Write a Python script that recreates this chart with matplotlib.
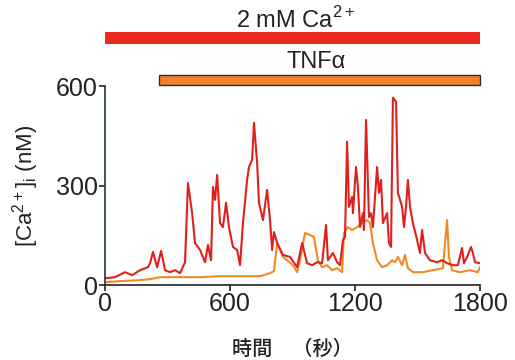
import matplotlib
matplotlib.use("Agg")
import matplotlib.pyplot as plt
from matplotlib.patches import Rectangle
from matplotlib.transforms import blended_transform_factory

plt.rcParams['font.family'] = ['Liberation Sans', 'DejaVu Sans']
plt.rcParams['mathtext.fontset'] = 'custom'
plt.rcParams['mathtext.rm'] = 'Liberation Sans'

# time (s) and [Ca2+]i (nM)
red_t = [5, 48, 96, 130, 168, 206, 216, 230, 250, 269, 288, 312, 336, 360, 384, 398,
         418, 432, 456, 480, 494, 509, 518, 528, 538, 552, 566, 581, 595, 614, 634, 648,
         662, 682, 691, 706, 715, 730, 739, 758, 778, 792, 802, 811, 826, 854, 888, 922,
         946, 970, 994, 1018, 1042, 1061, 1070, 1094, 1114, 1128, 1142, 1152, 1162, 1171,
         1186, 1190, 1205, 1214, 1224, 1238, 1243, 1253, 1267, 1277, 1286, 1306, 1315,
         1325, 1334, 1354, 1363, 1373, 1382, 1397, 1406, 1426, 1435, 1445, 1454, 1464,
         1478, 1498, 1512, 1522, 1536, 1560, 1594, 1618, 1642, 1670, 1694, 1714, 1723,
         1738, 1757, 1766, 1776, 1800]
red_ca = [21, 24, 39, 30, 45, 54, 66, 100, 54, 103, 45, 39, 45, 36, 69, 308,
          217, 127, 106, 69, 121, 75, 296, 257, 332, 187, 175, 248, 175, 115, 106, 60,
          187, 317, 356, 378, 489, 368, 248, 196, 287, 196, 106, 160, 127, 91, 85, 54,
          127, 66, 60, 69, 66, 181, 75, 97, 69, 60, 136, 145, 432, 236,
          266, 217, 356, 296, 175, 217, 166, 498, 205, 217, 175, 356, 278,
          317, 187, 217, 127, 115, 565, 553, 278, 236, 175, 236, 317, 236,
          187, 136, 97, 166, 97, 75, 69, 75, 66, 60, 60, 112, 66,
          85, 115, 97, 69, 66]

orange_t = [5, 72, 168, 216, 264, 360, 456, 552, 648, 744, 792, 811, 826, 854, 902,
            922, 936, 960, 984, 1003, 1022, 1042, 1066, 1090, 1114, 1138, 1147, 1166,
            1186, 1210, 1234, 1258, 1272, 1286, 1306, 1330, 1354, 1378, 1392, 1406,
            1426, 1440, 1454, 1478, 1526, 1574, 1622, 1642, 1651, 1666, 1704, 1752,
            1790, 1800]
orange_ca = [9, 12, 15, 18, 24, 24, 24, 27, 27, 27, 36, 42, 127, 85, 60,
             39, 75, 157, 151, 145, 75, 54, 60, 45, 51, 39, 157, 175,
             166, 175, 187, 196, 187, 127, 75, 54, 60, 75, 69, 85,
             60, 91, 51, 39, 39, 45, 51, 196, 85, 45, 39, 45,
             39, 54]

# treatment periods (s)
ca_period = (0, 1800)
tnf_period = (260, 1800)

fig = plt.figure(figsize=(5.15, 3.6), dpi=100)
ax = fig.add_axes([0.204, 0.208, 0.728, 0.553])

ax.plot(orange_t, orange_ca, color='#f08a24', lw=1.5)
ax.plot(red_t, red_ca, color='#e0201c', lw=1.5)

ax.set_xlim(0, 1800)
ax.set_ylim(0, 600)
ax.set_xticks([0, 600, 1200, 1800])
ax.set_yticks([0, 300, 600])
ax.tick_params(labelsize=18, length=4, width=1.2, pad=1, colors='#222222')
for s in ['top', 'right']:
    ax.spines[s].set_visible(False)
ax.spines['left'].set_color('#1e3a36')
ax.spines['bottom'].set_color('#222222')
for s in ['left', 'bottom']:
    ax.spines[s].set_linewidth(1.2)

ax.set_ylabel(r'[Ca$^{2+}$]$_{\rm i}$ (nM)', fontsize=16, color='#222222', labelpad=11)
ax.set_xlabel('時間　（秒）', fontsize=14.5, fontweight='medium', color='#222222',
              family=['Noto Sans CJK JP', 'DejaVu Sans'], labelpad=17)

tr = blended_transform_factory(ax.transData, ax.transAxes)
ax.add_patch(Rectangle((ca_period[0], 1.211), ca_period[1] - ca_period[0], 0.06,
                       transform=tr, clip_on=False, facecolor='#ea2a1e', edgecolor='none'))
ax.add_patch(Rectangle((tnf_period[0], 1.005), tnf_period[1] - tnf_period[0], 0.05,
                       transform=tr, clip_on=False, facecolor='#f0822e', edgecolor='#3a2a20', lw=1))
ax.text(0.507, 1.33, r'2 mM Ca$^{2+}$', transform=ax.transAxes, ha='center', va='center',
        fontsize=17, color='#222222')
ax.text(0.563, 1.12, 'TNFα', transform=ax.transAxes, ha='center', va='center',
        fontsize=17, color='#222222')

fig.savefig('out.png', dpi=100)
